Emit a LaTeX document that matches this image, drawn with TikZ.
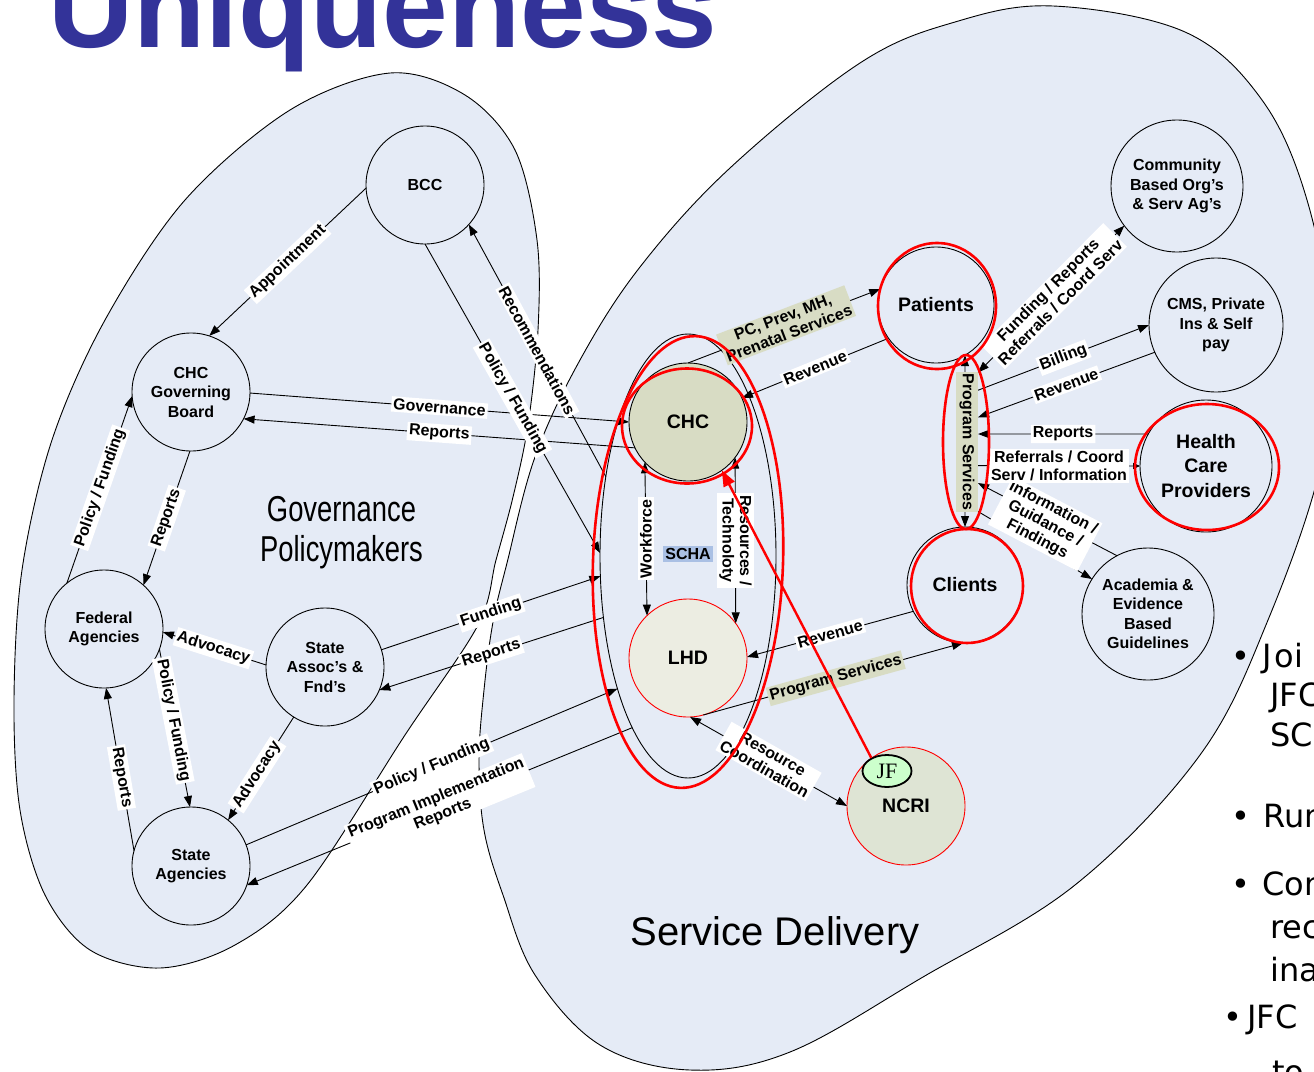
\documentclass[tikz,border=0pt]{standalone}
\usepackage{fontspec}
\setmainfont{Liberation Sans}
\newfontfamily\narrowfont[FakeStretch=0.76]{Liberation Sans}
\newfontfamily\bulfont{DejaVu Sans}
\newfontfamily\jffont{Liberation Serif}
\usetikzlibrary{arrows.meta,shapes.geometric}
\definecolor{bgblue}{RGB}{229,235,246}
\definecolor{khaki}{RGB}{216,220,196}
\definecolor{lhdfill}{RGB}{236,237,226}
\definecolor{ncrifill}{RGB}{222,228,212}
\definecolor{jfgreen}{RGB}{204,255,204}
\definecolor{schablue}{RGB}{170,192,228}
\definecolor{titleblue}{RGB}{51,51,153}
\newcommand\mylabfont{\fontsize{16}{17.5}\selectfont\bfseries}
\newcommand\mynodefont{\fontsize{16}{19.5}\selectfont\bfseries}
\newcommand\mybigfont{\fontsize{19.5}{24.5}\selectfont\bfseries}
\tikzset{
  circ/.style={circle, draw, line width=0.9pt, fill=bgblue, minimum size=118pt, inner sep=0pt, outer sep=0pt, align=center, font=\mynodefont},
  conn/.style={line width=0.9pt, -{Triangle[length=11pt,width=8pt]}},
  dconn/.style={line width=0.9pt, {Triangle[length=11pt,width=8pt]}-{Triangle[length=11pt,width=8pt]}},
  sconn/.style={line width=0.9pt, -{Triangle[length=7pt,width=6pt]}},
  lab/.style={fill=white, inner sep=2pt, font=\mylabfont, align=center},
  klab/.style={lab, fill=khaki},
  redline/.style={draw=red, line width=2.6pt},
  bullet/.style={anchor=base, inner sep=0pt, font=\bulfont\fontsize{32}{32}\selectfont},
  bultext/.style={anchor=base west, inner sep=0pt, font=\bulfont\fontsize{32}{32}\selectfont},
}
\begin{document}
\begin{tikzpicture}[x=1pt,y=-1pt]
\useasboundingbox (0,0) rectangle (1314,1071);
\clip (0,0) rectangle (1314,1071);

% big regions
\draw[fill=bgblue, line width=0.9pt] plot[smooth cycle, tension=0.55] coordinates {
 (390,73) (465,95) (515,150) (537,240) (538,330) (528,425) (513,497) (496,560) (478,625)
 (405,735) (307,885) (235,945) (160,968) (90,950) (45,895) (20,810) (14,700) (22,570)
 (52,440) (105,320) (185,200) (290,110)};
\draw[fill=bgblue, line width=0.9pt] plot[smooth cycle, tension=0.6] coordinates {
 (1053,6) (1185,32) (1262,100) (1307,200) (1330,330) (1322,460) (1268,620) (1200,755)
 (1075,885) (923,977) (790,1052) (690,1070) (600,1045) (535,975) (503,895) (484,830)
 (479,760) (484,690) (493,622) (507,563) (535,457) (580,360) (640,267) (730,168)
 (860,63) (955,22)};

% title and texts
\node[anchor=base west, inner sep=0pt, text=titleblue, font=\fontsize{118}{118}\selectfont\bfseries] (title) at (48.5,47) {Uniqueness};
\node[align=center, inner sep=0pt, font=\narrowfont\fontsize{36}{40}\selectfont] (gov) at (341.5,532.6) {Governance\\Policymakers};
\node[anchor=base, inner sep=0pt, font=\fontsize{40}{40}\selectfont] (sd) at (775,945) {Service Delivery};

\node[bullet] (b1) at (1241,667) {•};
\node[bultext] (t1) at (1262,667) {J\kern3pt oi};
\node[bultext] (t2) at (1270,706) {JFC};
\node[bultext] (t3) at (1270,746) {SC};
\node[bullet] (b2) at (1241,827) {•};
\node[bultext] (t4) at (1263,827) {Run};
\node[bullet] (b3) at (1241,895) {•};
\node[bultext] (t5) at (1262,895) {Con};
\node[bultext] (t6) at (1270,938) {rec};
\node[bultext] (t7) at (1270,981) {ina};
\node[bullet] (b4) at (1233,1028) {•};
\node[bultext] (t8) at (1247,1028) {JFC};
\node[bultext] (t9) at (1272,1083) {to};

% SCHA container
\node[ellipse, draw, line width=0.9pt, minimum width=176pt, minimum height=444pt, inner sep=0pt, outer sep=0pt] (scha) at (688,556) {};

% nodes
\node[circ] (bcc) at (425,185) {BCC};
\node[circ] (gb) at (191,392) {CHC\\Governing\\Board};
\node[circ] (fed) at (104,629) {Federal\\Agencies};
\node[circ] (sta) at (191,866) {State\\Agencies};
\node[circ] (ass) at (325,667) {State\\Assoc’s \&\\Fnd’s};
\node[circ, fill=khaki, font=\mybigfont] (chc) at (688,422) {CHC};
\node[circ, fill=lhdfill, draw=red, font=\mybigfont] (lhd) at (688,658) {LHD};
\node[circ, minimum size=116pt, font=\mybigfont] (pat) at (936,305) {Patients};
\node[circ, minimum size=116pt, font=\mybigfont] (cli) at (965,585) {Clients};
\node[circ, minimum size=132pt] (cbo) at (1177,186) {Community\\Based Org’s\\\& Serv Ag’s};
\node[circ, minimum size=134pt] (cms) at (1216,325) {CMS, Private\\Ins \& Self\\pay};
\node[circ, minimum size=132pt, font=\mybigfont] (hcp) at (1206,466) {Health\\Care\\Providers};
\node[circ, minimum size=132pt] (aca) at (1148,614) {Academia \&\\Evidence\\Based\\Guidelines};
\node[circ, fill=ncrifill, draw=red, font=\mybigfont] (ncri) at (906,806) {NCRI};
\node[minimum width=22pt, minimum height=140pt, inner sep=0pt, outer sep=0pt] (pslab) at (967,442) {};

% connectors
\draw[conn] (bcc.183) -- (gb.72);
\draw[conn] (bcc.270) -- (scha.178);
\draw[conn] (scha.136) -- (bcc.318);
\draw[conn] (gb.359) -- (chc.180);
\draw[conn] (chc.206) -- (gb.333);
\draw[conn] (gb.269) -- (fed.48);
\draw[conn] (fed.129) -- (gb.184);
\draw[conn] (ass.178) -- (fed.357);
\draw[conn] (fed.340) -- (sta.91);
\draw[conn] (sta.165) -- (fed.272);
\draw[conn] (ass.238) -- (sta.51);
\draw[conn] (ass.17) -- (scha.193);
\draw[conn] (scha.216) -- (ass.337);
\draw[conn] (sta.21) -- (scha.242);
\draw[conn] (scha.252) -- (sta.341);
\draw[conn] (chc.90) -- (pat.164);
\draw[conn] (pat.215) -- (chc.24);
\draw[dconn] (chc.223) -- (lhd.134);
\draw[dconn] (chc.323) -- (lhd.36);
\draw[conn] (cli.207) -- (lhd.1);
\draw[conn] (lhd.285) -- (cli.268);
\draw[dconn] (lhd.272) -- (ncri.180);
\draw[dconn] (pslab.81) -- (cbo.217);
\draw[conn] (pslab.78) -- (cms.180);
\draw[conn] (cms.204) -- (pslab.66);
\draw[conn] (hcp.151) -- (pslab.36);
\draw[sconn] (pslab.295) -- (hcp.180);
\draw[conn] (aca.118) -- (pslab.285);
\draw[conn] (pslab.279) -- (aca.148);
\draw[dconn] (pat.300) -- (cli.north);

% label boxes
\node[klab, rotate=-90, minimum width=140pt, minimum height=22pt, inner sep=0pt] (pstext) at (pslab.center) {Program Services};
\node[fill=schablue, font=\mynodefont, inner sep=2pt] (schal) at (688,554) {SCHA};

\path (bcc.183) -- (gb.72) node[lab, sloped, pos=.5] {Appointment};
\path (bcc.270) -- (scha.178) node[lab, sloped, pos=.5] {Policy / Funding};
\path (scha.136) -- (bcc.318) node[lab, sloped, pos=.5] {Recommendations};
\path (gb.359) -- (chc.180) node[lab, sloped, pos=.5] {Governance};
\path (chc.206) -- (gb.333) node[lab, sloped, pos=.5] {Reports};
\path (gb.269) -- (fed.48) node[lab, sloped, pos=.5] {Reports};
\path (fed.129) -- (gb.184) node[lab, sloped, pos=.51] {Policy / Funding};
\path (ass.178) -- (fed.357) node[lab, sloped, pos=.51] {Advocacy};
\path (fed.340) -- (sta.91) node[lab, sloped, pos=.45] {Policy / Funding};
\path (sta.165) -- (fed.272) node[lab, sloped, pos=.45] {Reports};
\path (ass.238) -- (sta.51) node[lab, sloped, pos=.56] {Advocacy};
\path (ass.17) -- (scha.193) node[lab, sloped, pos=.5] {Funding};
\path (scha.216) -- (ass.337) node[lab, sloped, pos=.5] {Reports};
\path (sta.21) -- (scha.242) node[lab, sloped, pos=.5] {Policy / Funding};
\path (scha.252) -- (sta.341) node[lab, sloped, pos=.5] {Program Implementation\\Reports};
\path (chc.90) -- (pat.164) node[klab, sloped, pos=.51] {PC, Prev, MH,\\Prenatal Services};
\path (pat.215) -- (chc.24) node[lab, sloped, pos=.5] {Revenue};
\path (chc.223) -- (lhd.134) node[lab, rotate=90, pos=.5] {Workforce};
\path (chc.323) -- (lhd.36) node[lab, rotate=-90, pos=.5] {Resources /\\Technoloty};
\path (cli.207) -- (lhd.1) node[lab, sloped, pos=.5] {Revenue};
\path (lhd.285) -- (cli.268) node[klab, sloped, pos=.51] {Program Services};
\path (lhd.272) -- (ncri.180) node[lab, sloped, pos=.5] {Resource\\Coordination};
\path (pslab.81) -- (cbo.217) node[lab, sloped, pos=.52] {Funding / Reports\\Referrals / Coord Serv};
\path (pslab.78) -- (cms.180) node[lab, sloped, pos=.5] {Billing};
\path (cms.204) -- (pslab.66) node[lab, sloped, pos=.5] {Revenue};
\path (hcp.151) -- (pslab.36) node[lab, sloped, pos=.5] {Reports};
\path (pslab.285) -- (aca.118) node[lab, sloped, pos=.5, yshift=-5pt] {Information /\\Guidance /\\Findings};
\path (pslab.295) -- (hcp.180) node[lab, pos=.5] {Referrals / Coord\\Serv / Information};

% red annotations
\draw[redline] (687,426) ellipse (65 and 57.5);
\draw[redline, rotate around={-2:(688,562)}] (688,562) ellipse (95 and 226);
\draw[redline] (937,306) ellipse (59 and 63);
\draw[redline] (966,442) ellipse (23 and 87);
\draw[redline] (967,586) ellipse (56 and 57);
\draw[redline] (1207,467) ellipse (72 and 63);
\node[ellipse, draw, line width=1.8pt, fill=jfgreen, minimum width=49pt, minimum height=32pt, inner sep=0pt, font=\jffont\fontsize{22}{22}\selectfont] (jf) at (887,771) {JF};
\draw[red, line width=2.4pt, -{Triangle[length=16pt,width=12pt]}] (jf.140) -- (chc.305);
\end{tikzpicture}
\end{document}
